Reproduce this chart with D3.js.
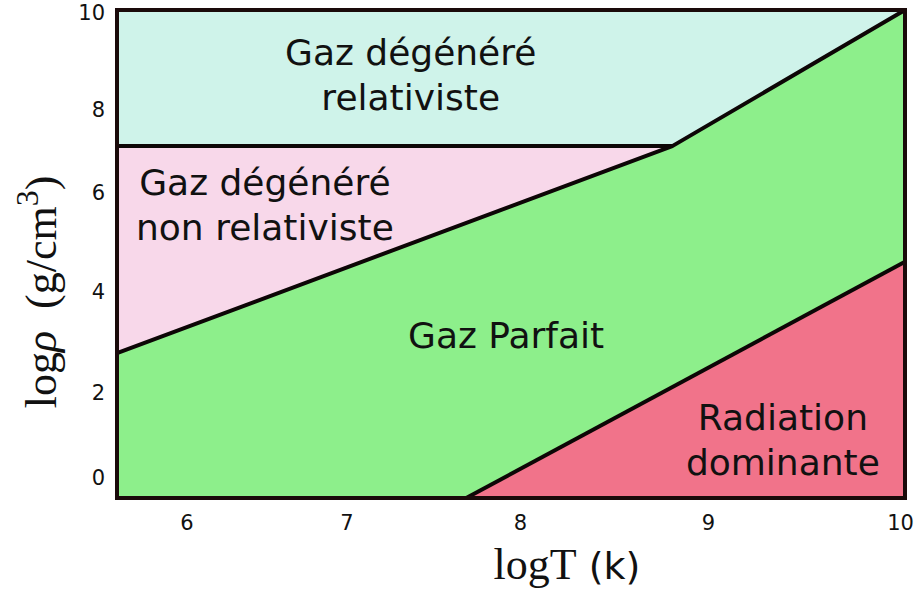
<!DOCTYPE html>
<html>
<head>
<meta charset="utf-8">
<script src="https://cdn.jsdelivr.net/npm/d3@7"></script>
<style>
  body { margin: 0; background: #fff; }
</style>
</head>
<body>
<div id="chart"></div>
<script>
// tick labels as drawn on the diagram
var xTicks = [6, 7, 8, 9, 10];
var yTicks = [0, 2, 4, 6, 8, 10];

// extent of the frame (logT, log rho)
var xExtent = [5.56, 10.02];
var yExtent = [-0.47, 10.06];

// boundaries between the regimes, in (logT, log rho)
var relLine = [[5.56, 7.13], [8.81, 7.13]];
var degLine = [[5.56, 2.79], [8.81, 7.13], [10.02, 10.06]];
var radLine = [[7.69, -0.47], [10.02, 4.61]];

// regions
var regionNames = ["Gaz dégénéré relativiste", "Gaz dégénéré non relativiste", "Gaz Parfait", "Radiation dominante"];
var regionPolys = [
    [[5.56, 10.06], [10.02, 10.06], [8.81, 7.13], [5.56, 7.13]],
    [[5.56, 7.13], [8.81, 7.13], [5.56, 2.79]],
    [[5.56, 2.79], [8.81, 7.13], [10.02, 10.06], [10.02, 4.61], [7.69, -0.47], [5.56, -0.47]],
    [[7.69, -0.47], [10.02, -0.47], [10.02, 4.61]]
];
var regionColors = ["#cff3ea", "#f8d8ea", "#8def8b", "#f1738a"];

// label lines and anchor (logT, log rho)
var labelLines = [
    ["Gaz dégénéré", "relativiste"],
    ["Gaz dégénéré", "non relativiste"],
    ["Gaz Parfait"],
    ["Radiation", "dominante"]
];
var labelAnchors = [[7.37, 8.73], [6.49, 5.76], [7.92, 3.15], [9.39, 0.89]];

var width = 916, height = 590;

var svg = d3.select("#chart")
    .append("svg")
    .attr("width", width)
    .attr("height", height);

// the tick labels on the drawing are not evenly spaced, so map them one by one
var x = d3.scaleLinear()
    .domain([5.56, 6, 7, 8, 9, 10, 10.02])
    .range([117, 186.5, 346.5, 520, 708, 900, 905]);
var y = d3.scaleLinear()
    .domain([-0.47, 0, 2, 4, 6, 8, 10, 10.06])
    .range([498, 478, 393, 292, 193, 110, 13, 10]);

var line = d3.line()
    .x(function(d) { return x(d[0]); })
    .y(function(d) { return y(d[1]); });

// filled regions
svg.selectAll(".region")
    .data(regionPolys)
    .enter()
    .append("path")
    .attr("class", "region")
    .attr("d", function(d) { return line(d) + "Z"; })
    .style("fill", function(d, i) { return regionColors[i]; })
    .style("stroke", "none");

// boundary lines
svg.selectAll(".bound")
    .data([relLine, degLine, radLine])
    .enter()
    .append("path")
    .attr("class", "bound")
    .attr("d", line)
    .style("fill", "none")
    .style("stroke", "#0d0606")
    .style("stroke-width", 4)
    .style("stroke-linejoin", "round");

// frame
svg.append("rect")
    .attr("x", x(xExtent[0]))
    .attr("y", y(yExtent[1]))
    .attr("width", x(xExtent[1]) - x(xExtent[0]))
    .attr("height", y(yExtent[0]) - y(yExtent[1]))
    .style("fill", "none")
    .style("stroke", "#1a0a0a")
    .style("stroke-width", 4);

// axes (labels only)
var xaxis = svg.append("g")
    .attr("transform", "translate(0," + y(yExtent[0]) + ")")
    .call(d3.axisBottom(x).tickValues(xTicks).tickSize(0).tickPadding(17).tickFormat(d3.format("d")));
xaxis.select(".domain").remove();
xaxis.selectAll("text")
    .attr("font-size", 21)
    .attr("font-family", "DejaVu Sans")
    .attr("fill", "#111");

var yaxis = svg.append("g")
    .attr("transform", "translate(" + x(xExtent[0]) + ",0)")
    .call(d3.axisLeft(y).tickValues(yTicks).tickSize(0).tickPadding(12).tickFormat(d3.format("d")));
yaxis.select(".domain").remove();
yaxis.selectAll("text")
    .attr("font-size", 21)
    .attr("font-family", "DejaVu Sans")
    .attr("fill", "#111");

// region labels
var labels = svg.selectAll(".label")
    .data(labelLines)
    .enter()
    .append("text")
    .attr("class", "label")
    .attr("text-anchor", "middle")
    .attr("font-family", "DejaVu Sans")
    .attr("font-size", 36)
    .attr("fill", "#111")
    .attr("transform", function(d, i) {
        return "translate(" + x(labelAnchors[i][0]) + "," + y(labelAnchors[i][1]) + ")";
    });
labels.each(function(d) {
    var t = d3.select(this);
    d.forEach(function(s, k) {
        t.append("tspan")
            .attr("x", 0)
            .attr("y", (k - (d.length - 1) / 2) * 45)
            .attr("dy", "0.35em")
            .text(s);
    });
});

// x title
var xt = svg.append("text")
    .attr("x", 567)
    .attr("y", 579)
    .attr("text-anchor", "middle")
    .attr("fill", "#111");
xt.append("tspan")
    .attr("font-family", "Liberation Serif")
    .attr("font-size", 44)
    .text("logT");
xt.append("tspan")
    .attr("font-family", "DejaVu Sans")
    .attr("font-size", 38)
    .text(" (k)");

// y title
var yt = svg.append("text")
    .attr("transform", "translate(56,292) rotate(-90)")
    .attr("text-anchor", "middle")
    .attr("font-family", "Liberation Serif")
    .attr("font-size", 44)
    .attr("fill", "#111");
yt.append("tspan").text("log");
yt.append("tspan").attr("font-style", "italic").text("ρ");
yt.append("tspan").text("\u2002(g/cm");
yt.append("tspan").attr("font-size", 32).attr("dy", -18).text("3");
yt.append("tspan").attr("dy", 18).text(")");
</script>
</body>
</html>
